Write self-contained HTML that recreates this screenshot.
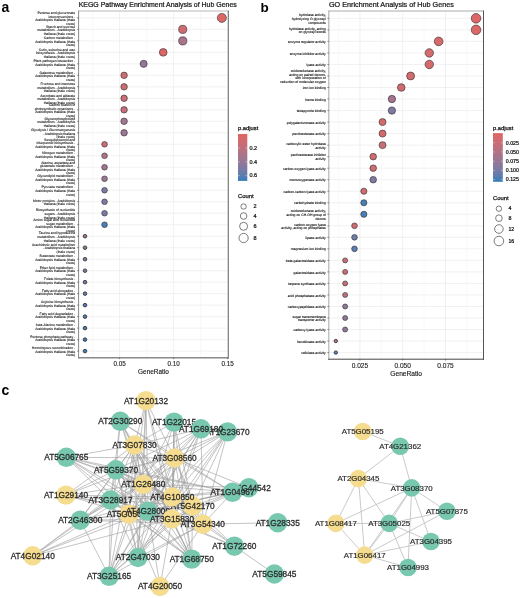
<!DOCTYPE html>
<html><head><meta charset="utf-8"><style>
html,body{margin:0;padding:0;background:#fff;}
svg{display:block;font-family:"Liberation Sans",sans-serif;will-change:transform;}
</style></head><body>
<svg width="520" height="598" viewBox="0 0 520 598">
<rect width="520" height="598" fill="#fff"/>
<text x="1.6" y="11.8" font-size="14" font-weight="bold" fill="#000">a</text>
<text x="260.6" y="11.8" font-size="13.5" font-weight="bold" fill="#000">b</text>
<text x="1.6" y="394.8" font-size="14" font-weight="bold" fill="#000">c</text>
<text x="78.7" y="6.8" font-size="6.96" fill="#1a1a1a" stroke="#1a1a1a" stroke-width="0.24">KEGG Pathway Enrichment Analysis of Hub Genes</text>
<text x="329" y="6.9" font-size="7.22" fill="#1a1a1a" stroke="#1a1a1a" stroke-width="0.24">GO Enrichment Analysis of Hub Genes</text>
<line x1="78.6" y1="17.90" x2="228.3" y2="17.90" stroke="#ebebeb" stroke-width="0.7"/>
<line x1="78.6" y1="29.39" x2="228.3" y2="29.39" stroke="#ebebeb" stroke-width="0.7"/>
<line x1="78.6" y1="40.88" x2="228.3" y2="40.88" stroke="#ebebeb" stroke-width="0.7"/>
<line x1="78.6" y1="52.37" x2="228.3" y2="52.37" stroke="#ebebeb" stroke-width="0.7"/>
<line x1="78.6" y1="63.86" x2="228.3" y2="63.86" stroke="#ebebeb" stroke-width="0.7"/>
<line x1="78.6" y1="75.35" x2="228.3" y2="75.35" stroke="#ebebeb" stroke-width="0.7"/>
<line x1="78.6" y1="86.84" x2="228.3" y2="86.84" stroke="#ebebeb" stroke-width="0.7"/>
<line x1="78.6" y1="98.33" x2="228.3" y2="98.33" stroke="#ebebeb" stroke-width="0.7"/>
<line x1="78.6" y1="109.82" x2="228.3" y2="109.82" stroke="#ebebeb" stroke-width="0.7"/>
<line x1="78.6" y1="121.31" x2="228.3" y2="121.31" stroke="#ebebeb" stroke-width="0.7"/>
<line x1="78.6" y1="132.80" x2="228.3" y2="132.80" stroke="#ebebeb" stroke-width="0.7"/>
<line x1="78.6" y1="144.29" x2="228.3" y2="144.29" stroke="#ebebeb" stroke-width="0.7"/>
<line x1="78.6" y1="155.78" x2="228.3" y2="155.78" stroke="#ebebeb" stroke-width="0.7"/>
<line x1="78.6" y1="167.27" x2="228.3" y2="167.27" stroke="#ebebeb" stroke-width="0.7"/>
<line x1="78.6" y1="178.76" x2="228.3" y2="178.76" stroke="#ebebeb" stroke-width="0.7"/>
<line x1="78.6" y1="190.25" x2="228.3" y2="190.25" stroke="#ebebeb" stroke-width="0.7"/>
<line x1="78.6" y1="201.74" x2="228.3" y2="201.74" stroke="#ebebeb" stroke-width="0.7"/>
<line x1="78.6" y1="213.23" x2="228.3" y2="213.23" stroke="#ebebeb" stroke-width="0.7"/>
<line x1="78.6" y1="224.72" x2="228.3" y2="224.72" stroke="#ebebeb" stroke-width="0.7"/>
<line x1="78.6" y1="236.21" x2="228.3" y2="236.21" stroke="#ebebeb" stroke-width="0.7"/>
<line x1="78.6" y1="247.70" x2="228.3" y2="247.70" stroke="#ebebeb" stroke-width="0.7"/>
<line x1="78.6" y1="259.19" x2="228.3" y2="259.19" stroke="#ebebeb" stroke-width="0.7"/>
<line x1="78.6" y1="270.68" x2="228.3" y2="270.68" stroke="#ebebeb" stroke-width="0.7"/>
<line x1="78.6" y1="282.17" x2="228.3" y2="282.17" stroke="#ebebeb" stroke-width="0.7"/>
<line x1="78.6" y1="293.66" x2="228.3" y2="293.66" stroke="#ebebeb" stroke-width="0.7"/>
<line x1="78.6" y1="305.15" x2="228.3" y2="305.15" stroke="#ebebeb" stroke-width="0.7"/>
<line x1="78.6" y1="316.64" x2="228.3" y2="316.64" stroke="#ebebeb" stroke-width="0.7"/>
<line x1="78.6" y1="328.13" x2="228.3" y2="328.13" stroke="#ebebeb" stroke-width="0.7"/>
<line x1="78.6" y1="339.62" x2="228.3" y2="339.62" stroke="#ebebeb" stroke-width="0.7"/>
<line x1="78.6" y1="351.11" x2="228.3" y2="351.11" stroke="#ebebeb" stroke-width="0.7"/>
<line x1="92.60" y1="11.0" x2="92.60" y2="357.8" stroke="#f3f3f3" stroke-width="0.5"/>
<line x1="146.60" y1="11.0" x2="146.60" y2="357.8" stroke="#f3f3f3" stroke-width="0.5"/>
<line x1="200.60" y1="11.0" x2="200.60" y2="357.8" stroke="#f3f3f3" stroke-width="0.5"/>
<line x1="119.60" y1="11.0" x2="119.60" y2="357.8" stroke="#ebebeb" stroke-width="0.7"/>
<line x1="173.60" y1="11.0" x2="173.60" y2="357.8" stroke="#ebebeb" stroke-width="0.7"/>
<line x1="227.60" y1="11.0" x2="227.60" y2="357.8" stroke="#ebebeb" stroke-width="0.7"/>
<circle cx="221.85" cy="17.90" r="4.50" fill="#db6867" stroke="#2a2a2a" stroke-width="0.7" stroke-opacity="0.85"/>
<circle cx="182.75" cy="29.39" r="4.08" fill="#cf6b70" stroke="#2a2a2a" stroke-width="0.7" stroke-opacity="0.85"/>
<circle cx="182.75" cy="40.88" r="4.08" fill="#aa748a" stroke="#2a2a2a" stroke-width="0.7" stroke-opacity="0.85"/>
<circle cx="163.20" cy="52.37" r="3.84" fill="#db6867" stroke="#2a2a2a" stroke-width="0.7" stroke-opacity="0.85"/>
<circle cx="143.65" cy="63.86" r="3.57" fill="#947797" stroke="#2a2a2a" stroke-width="0.7" stroke-opacity="0.85"/>
<circle cx="124.10" cy="75.35" r="3.24" fill="#ca6d74" stroke="#2a2a2a" stroke-width="0.7" stroke-opacity="0.85"/>
<circle cx="124.10" cy="86.84" r="3.24" fill="#ca6d74" stroke="#2a2a2a" stroke-width="0.7" stroke-opacity="0.85"/>
<circle cx="124.10" cy="98.33" r="3.24" fill="#c76e76" stroke="#2a2a2a" stroke-width="0.7" stroke-opacity="0.85"/>
<circle cx="124.10" cy="109.82" r="3.24" fill="#c46f79" stroke="#2a2a2a" stroke-width="0.7" stroke-opacity="0.85"/>
<circle cx="124.10" cy="121.31" r="3.24" fill="#a3758e" stroke="#2a2a2a" stroke-width="0.7" stroke-opacity="0.85"/>
<circle cx="124.10" cy="132.80" r="3.24" fill="#9c7693" stroke="#2a2a2a" stroke-width="0.7" stroke-opacity="0.85"/>
<circle cx="104.55" cy="144.29" r="2.82" fill="#ca6d74" stroke="#2a2a2a" stroke-width="0.7" stroke-opacity="0.85"/>
<circle cx="104.55" cy="155.78" r="2.82" fill="#b17386" stroke="#2a2a2a" stroke-width="0.7" stroke-opacity="0.85"/>
<circle cx="104.55" cy="167.27" r="2.82" fill="#a3758e" stroke="#2a2a2a" stroke-width="0.7" stroke-opacity="0.85"/>
<circle cx="104.55" cy="178.76" r="2.82" fill="#9c7693" stroke="#2a2a2a" stroke-width="0.7" stroke-opacity="0.85"/>
<circle cx="104.55" cy="190.25" r="2.82" fill="#7a7aa4" stroke="#2a2a2a" stroke-width="0.7" stroke-opacity="0.85"/>
<circle cx="104.55" cy="201.74" r="2.82" fill="#7a7aa4" stroke="#2a2a2a" stroke-width="0.7" stroke-opacity="0.85"/>
<circle cx="104.55" cy="213.23" r="2.82" fill="#7a7aa4" stroke="#2a2a2a" stroke-width="0.7" stroke-opacity="0.85"/>
<circle cx="104.55" cy="224.72" r="2.82" fill="#487db6" stroke="#2a2a2a" stroke-width="0.7" stroke-opacity="0.85"/>
<circle cx="85.00" cy="236.21" r="1.80" fill="#9c7693" stroke="#2a2a2a" stroke-width="0.95" stroke-opacity="0.85"/>
<circle cx="85.00" cy="247.70" r="1.80" fill="#947797" stroke="#2a2a2a" stroke-width="0.95" stroke-opacity="0.85"/>
<circle cx="85.00" cy="259.19" r="1.80" fill="#87799e" stroke="#2a2a2a" stroke-width="0.95" stroke-opacity="0.85"/>
<circle cx="85.00" cy="270.68" r="1.80" fill="#807aa2" stroke="#2a2a2a" stroke-width="0.95" stroke-opacity="0.85"/>
<circle cx="85.00" cy="282.17" r="1.80" fill="#747ba7" stroke="#2a2a2a" stroke-width="0.95" stroke-opacity="0.85"/>
<circle cx="85.00" cy="293.66" r="1.80" fill="#657cad" stroke="#2a2a2a" stroke-width="0.95" stroke-opacity="0.85"/>
<circle cx="85.00" cy="305.15" r="1.80" fill="#577db1" stroke="#2a2a2a" stroke-width="0.95" stroke-opacity="0.85"/>
<circle cx="85.00" cy="316.64" r="1.80" fill="#527db3" stroke="#2a2a2a" stroke-width="0.95" stroke-opacity="0.85"/>
<circle cx="85.00" cy="328.13" r="1.80" fill="#487db6" stroke="#2a2a2a" stroke-width="0.95" stroke-opacity="0.85"/>
<circle cx="85.00" cy="339.62" r="1.80" fill="#407eb7" stroke="#2a2a2a" stroke-width="0.95" stroke-opacity="0.85"/>
<circle cx="85.00" cy="351.11" r="1.80" fill="#3c7eb8" stroke="#2a2a2a" stroke-width="0.95" stroke-opacity="0.85"/>
<line x1="78.6" y1="11.0" x2="228.3" y2="11.0" stroke="#b0b0b0" stroke-width="0.9"/>
<line x1="228.3" y1="10.55" x2="228.3" y2="358.5" stroke="#6a6a6a" stroke-width="1.0"/>
<line x1="78.6" y1="10.55" x2="78.6" y2="358.5" stroke="#8a8a8a" stroke-width="1.0"/>
<line x1="78.1" y1="357.8" x2="228.8" y2="357.8" stroke="#8a8a8a" stroke-width="1.4"/>
<line x1="119.60" y1="357.8" x2="119.60" y2="359.1" stroke="#333" stroke-width="0.6"/>
<text x="119.60" y="365.7" font-size="6.3" fill="#222" stroke="#222" stroke-width="0.12" text-anchor="middle">0.05</text>
<line x1="173.60" y1="357.8" x2="173.60" y2="359.1" stroke="#333" stroke-width="0.6"/>
<text x="173.60" y="365.7" font-size="6.3" fill="#222" stroke="#222" stroke-width="0.12" text-anchor="middle">0.10</text>
<line x1="227.60" y1="357.8" x2="227.60" y2="359.1" stroke="#333" stroke-width="0.6"/>
<text x="227.60" y="365.7" font-size="6.3" fill="#222" stroke="#222" stroke-width="0.12" text-anchor="middle">0.15</text>
<text x="153.5" y="373.7" font-size="6.45" fill="#111" stroke="#111" stroke-width="0.12" text-anchor="middle">GeneRatio</text>
<line x1="77.19999999999999" y1="17.90" x2="78.6" y2="17.90" stroke="#333" stroke-width="0.6"/>
<text font-size="3.4" fill="#333" stroke="#333" stroke-width="0.12" text-anchor="end" style="text-rendering:geometricPrecision"><tspan x="75.2" y="14.32">Pentose and glucuronate</tspan><tspan x="75.2" y="17.88">interconversions -</tspan><tspan x="75.2" y="21.42">Arabidopsis thaliana (thale</tspan><tspan x="75.2" y="24.97">cress)</tspan></text>
<line x1="77.19999999999999" y1="29.39" x2="78.6" y2="29.39" stroke="#333" stroke-width="0.6"/>
<text font-size="3.4" fill="#333" stroke="#333" stroke-width="0.12" text-anchor="end" style="text-rendering:geometricPrecision"><tspan x="75.2" y="27.59">Starch and sucrose</tspan><tspan x="75.2" y="31.14">metabolism - Arabidopsis</tspan><tspan x="75.2" y="34.69">thaliana (thale cress)</tspan></text>
<line x1="77.19999999999999" y1="40.88" x2="78.6" y2="40.88" stroke="#333" stroke-width="0.6"/>
<text font-size="3.4" fill="#333" stroke="#333" stroke-width="0.12" text-anchor="end" style="text-rendering:geometricPrecision"><tspan x="75.2" y="39.08">Carbon metabolism -</tspan><tspan x="75.2" y="42.63">Arabidopsis thaliana (thale</tspan><tspan x="75.2" y="46.18">cress)</tspan></text>
<line x1="77.19999999999999" y1="52.37" x2="78.6" y2="52.37" stroke="#333" stroke-width="0.6"/>
<text font-size="3.4" fill="#333" stroke="#333" stroke-width="0.12" text-anchor="end" style="text-rendering:geometricPrecision"><tspan x="75.2" y="50.57">Cutin, suberine and wax</tspan><tspan x="75.2" y="54.12">biosynthesis - Arabidopsis</tspan><tspan x="75.2" y="57.67">thaliana (thale cress)</tspan></text>
<line x1="77.19999999999999" y1="63.86" x2="78.6" y2="63.86" stroke="#333" stroke-width="0.6"/>
<text font-size="3.4" fill="#333" stroke="#333" stroke-width="0.12" text-anchor="end" style="text-rendering:geometricPrecision"><tspan x="75.2" y="62.06">Plant-pathogen interaction -</tspan><tspan x="75.2" y="65.61">Arabidopsis thaliana (thale</tspan><tspan x="75.2" y="69.16">cress)</tspan></text>
<line x1="77.19999999999999" y1="75.35" x2="78.6" y2="75.35" stroke="#333" stroke-width="0.6"/>
<text font-size="3.4" fill="#333" stroke="#333" stroke-width="0.12" text-anchor="end" style="text-rendering:geometricPrecision"><tspan x="75.2" y="73.55">Galactose metabolism -</tspan><tspan x="75.2" y="77.10">Arabidopsis thaliana (thale</tspan><tspan x="75.2" y="80.65">cress)</tspan></text>
<line x1="77.19999999999999" y1="86.84" x2="78.6" y2="86.84" stroke="#333" stroke-width="0.6"/>
<text font-size="3.4" fill="#333" stroke="#333" stroke-width="0.12" text-anchor="end" style="text-rendering:geometricPrecision"><tspan x="75.2" y="85.04">Fructose and mannose</tspan><tspan x="75.2" y="88.59">metabolism - Arabidopsis</tspan><tspan x="75.2" y="92.14">thaliana (thale cress)</tspan></text>
<line x1="77.19999999999999" y1="98.33" x2="78.6" y2="98.33" stroke="#333" stroke-width="0.6"/>
<text font-size="3.4" fill="#333" stroke="#333" stroke-width="0.12" text-anchor="end" style="text-rendering:geometricPrecision"><tspan x="75.2" y="96.53">Ascorbate and aldarate</tspan><tspan x="75.2" y="100.08">metabolism - Arabidopsis</tspan><tspan x="75.2" y="103.63">thaliana (thale cress)</tspan></text>
<line x1="77.19999999999999" y1="109.82" x2="78.6" y2="109.82" stroke="#333" stroke-width="0.6"/>
<text font-size="3.4" fill="#333" stroke="#333" stroke-width="0.12" text-anchor="end" style="text-rendering:geometricPrecision"><tspan x="75.2" y="106.24">Carbon fixation in</tspan><tspan x="75.2" y="109.79">photosynthetic organisms -</tspan><tspan x="75.2" y="113.34">Arabidopsis thaliana (thale</tspan><tspan x="75.2" y="116.89">cress)</tspan></text>
<line x1="77.19999999999999" y1="121.31" x2="78.6" y2="121.31" stroke="#333" stroke-width="0.6"/>
<text font-size="3.4" fill="#333" stroke="#333" stroke-width="0.12" text-anchor="end" style="text-rendering:geometricPrecision"><tspan x="75.2" y="119.51">Glycerophospholipid</tspan><tspan x="75.2" y="123.06">metabolism - Arabidopsis</tspan><tspan x="75.2" y="126.61">thaliana (thale cress)</tspan></text>
<line x1="77.19999999999999" y1="132.80" x2="78.6" y2="132.80" stroke="#333" stroke-width="0.6"/>
<text font-size="3.4" fill="#333" stroke="#333" stroke-width="0.12" text-anchor="end" style="text-rendering:geometricPrecision"><tspan x="75.2" y="131.00">Glycolysis / Gluconeogenesis</tspan><tspan x="75.2" y="134.55">- Arabidopsis thaliana</tspan><tspan x="75.2" y="138.10">(thale cress)</tspan></text>
<line x1="77.19999999999999" y1="144.29" x2="78.6" y2="144.29" stroke="#333" stroke-width="0.6"/>
<text font-size="3.4" fill="#333" stroke="#333" stroke-width="0.12" text-anchor="end" style="text-rendering:geometricPrecision"><tspan x="75.2" y="140.72">Sesquiterpenoid and</tspan><tspan x="75.2" y="144.27">triterpenoid biosynthesis -</tspan><tspan x="75.2" y="147.81">Arabidopsis thaliana (thale</tspan><tspan x="75.2" y="151.37">cress)</tspan></text>
<line x1="77.19999999999999" y1="155.78" x2="78.6" y2="155.78" stroke="#333" stroke-width="0.6"/>
<text font-size="3.4" fill="#333" stroke="#333" stroke-width="0.12" text-anchor="end" style="text-rendering:geometricPrecision"><tspan x="75.2" y="153.98">Nitrogen metabolism -</tspan><tspan x="75.2" y="157.53">Arabidopsis thaliana (thale</tspan><tspan x="75.2" y="161.08">cress)</tspan></text>
<line x1="77.19999999999999" y1="167.27" x2="78.6" y2="167.27" stroke="#333" stroke-width="0.6"/>
<text font-size="3.4" fill="#333" stroke="#333" stroke-width="0.12" text-anchor="end" style="text-rendering:geometricPrecision"><tspan x="75.2" y="163.70">Alanine, aspartate and</tspan><tspan x="75.2" y="167.25">glutamate metabolism -</tspan><tspan x="75.2" y="170.80">Arabidopsis thaliana (thale</tspan><tspan x="75.2" y="174.35">cress)</tspan></text>
<line x1="77.19999999999999" y1="178.76" x2="78.6" y2="178.76" stroke="#333" stroke-width="0.6"/>
<text font-size="3.4" fill="#333" stroke="#333" stroke-width="0.12" text-anchor="end" style="text-rendering:geometricPrecision"><tspan x="75.2" y="176.96">Glycerolipid metabolism -</tspan><tspan x="75.2" y="180.51">Arabidopsis thaliana (thale</tspan><tspan x="75.2" y="184.06">cress)</tspan></text>
<line x1="77.19999999999999" y1="190.25" x2="78.6" y2="190.25" stroke="#333" stroke-width="0.6"/>
<text font-size="3.4" fill="#333" stroke="#333" stroke-width="0.12" text-anchor="end" style="text-rendering:geometricPrecision"><tspan x="75.2" y="188.45">Pyruvate metabolism -</tspan><tspan x="75.2" y="192.00">Arabidopsis thaliana (thale</tspan><tspan x="75.2" y="195.55">cress)</tspan></text>
<line x1="77.19999999999999" y1="201.74" x2="78.6" y2="201.74" stroke="#333" stroke-width="0.6"/>
<text font-size="3.4" fill="#333" stroke="#333" stroke-width="0.12" text-anchor="end" style="text-rendering:geometricPrecision"><tspan x="75.2" y="201.72">Motor proteins - Arabidopsis</tspan><tspan x="75.2" y="205.27">thaliana (thale cress)</tspan></text>
<line x1="77.19999999999999" y1="213.23" x2="78.6" y2="213.23" stroke="#333" stroke-width="0.6"/>
<text font-size="3.4" fill="#333" stroke="#333" stroke-width="0.12" text-anchor="end" style="text-rendering:geometricPrecision"><tspan x="75.2" y="211.43">Biosynthesis of nucleotide</tspan><tspan x="75.2" y="214.98">sugars - Arabidopsis</tspan><tspan x="75.2" y="218.53">thaliana (thale cress)</tspan></text>
<line x1="77.19999999999999" y1="224.72" x2="78.6" y2="224.72" stroke="#333" stroke-width="0.6"/>
<text font-size="3.4" fill="#333" stroke="#333" stroke-width="0.12" text-anchor="end" style="text-rendering:geometricPrecision"><tspan x="75.2" y="221.15">Amino sugar and nucleotide</tspan><tspan x="75.2" y="224.70">sugar metabolism -</tspan><tspan x="75.2" y="228.25">Arabidopsis thaliana (thale</tspan><tspan x="75.2" y="231.80">cress)</tspan></text>
<line x1="77.19999999999999" y1="236.21" x2="78.6" y2="236.21" stroke="#333" stroke-width="0.6"/>
<text font-size="3.4" fill="#333" stroke="#333" stroke-width="0.12" text-anchor="end" style="text-rendering:geometricPrecision"><tspan x="75.2" y="234.41">Taurine and hypotaurine</tspan><tspan x="75.2" y="237.96">metabolism - Arabidopsis</tspan><tspan x="75.2" y="241.51">thaliana (thale cress)</tspan></text>
<line x1="77.19999999999999" y1="247.70" x2="78.6" y2="247.70" stroke="#333" stroke-width="0.6"/>
<text font-size="3.4" fill="#333" stroke="#333" stroke-width="0.12" text-anchor="end" style="text-rendering:geometricPrecision"><tspan x="75.2" y="245.90">Arachidonic acid metabolism</tspan><tspan x="75.2" y="249.45">- Arabidopsis thaliana</tspan><tspan x="75.2" y="253.00">(thale cress)</tspan></text>
<line x1="77.19999999999999" y1="259.19" x2="78.6" y2="259.19" stroke="#333" stroke-width="0.6"/>
<text font-size="3.4" fill="#333" stroke="#333" stroke-width="0.12" text-anchor="end" style="text-rendering:geometricPrecision"><tspan x="75.2" y="257.39">Butanoate metabolism -</tspan><tspan x="75.2" y="260.94">Arabidopsis thaliana (thale</tspan><tspan x="75.2" y="264.49">cress)</tspan></text>
<line x1="77.19999999999999" y1="270.68" x2="78.6" y2="270.68" stroke="#333" stroke-width="0.6"/>
<text font-size="3.4" fill="#333" stroke="#333" stroke-width="0.12" text-anchor="end" style="text-rendering:geometricPrecision"><tspan x="75.2" y="268.88">Ether lipid metabolism -</tspan><tspan x="75.2" y="272.43">Arabidopsis thaliana (thale</tspan><tspan x="75.2" y="275.98">cress)</tspan></text>
<line x1="77.19999999999999" y1="282.17" x2="78.6" y2="282.17" stroke="#333" stroke-width="0.6"/>
<text font-size="3.4" fill="#333" stroke="#333" stroke-width="0.12" text-anchor="end" style="text-rendering:geometricPrecision"><tspan x="75.2" y="280.37">Folate biosynthesis -</tspan><tspan x="75.2" y="283.92">Arabidopsis thaliana (thale</tspan><tspan x="75.2" y="287.47">cress)</tspan></text>
<line x1="77.19999999999999" y1="293.66" x2="78.6" y2="293.66" stroke="#333" stroke-width="0.6"/>
<text font-size="3.4" fill="#333" stroke="#333" stroke-width="0.12" text-anchor="end" style="text-rendering:geometricPrecision"><tspan x="75.2" y="291.86">Fatty acid elongation -</tspan><tspan x="75.2" y="295.41">Arabidopsis thaliana (thale</tspan><tspan x="75.2" y="298.96">cress)</tspan></text>
<line x1="77.19999999999999" y1="305.15" x2="78.6" y2="305.15" stroke="#333" stroke-width="0.6"/>
<text font-size="3.4" fill="#333" stroke="#333" stroke-width="0.12" text-anchor="end" style="text-rendering:geometricPrecision"><tspan x="75.2" y="303.35">Arginine biosynthesis -</tspan><tspan x="75.2" y="306.90">Arabidopsis thaliana (thale</tspan><tspan x="75.2" y="310.45">cress)</tspan></text>
<line x1="77.19999999999999" y1="316.64" x2="78.6" y2="316.64" stroke="#333" stroke-width="0.6"/>
<text font-size="3.4" fill="#333" stroke="#333" stroke-width="0.12" text-anchor="end" style="text-rendering:geometricPrecision"><tspan x="75.2" y="314.84">Fatty acid degradation -</tspan><tspan x="75.2" y="318.39">Arabidopsis thaliana (thale</tspan><tspan x="75.2" y="321.94">cress)</tspan></text>
<line x1="77.19999999999999" y1="328.13" x2="78.6" y2="328.13" stroke="#333" stroke-width="0.6"/>
<text font-size="3.4" fill="#333" stroke="#333" stroke-width="0.12" text-anchor="end" style="text-rendering:geometricPrecision"><tspan x="75.2" y="326.33">beta-Alanine metabolism -</tspan><tspan x="75.2" y="329.88">Arabidopsis thaliana (thale</tspan><tspan x="75.2" y="333.43">cress)</tspan></text>
<line x1="77.19999999999999" y1="339.62" x2="78.6" y2="339.62" stroke="#333" stroke-width="0.6"/>
<text font-size="3.4" fill="#333" stroke="#333" stroke-width="0.12" text-anchor="end" style="text-rendering:geometricPrecision"><tspan x="75.2" y="337.82">Pentose phosphate pathway -</tspan><tspan x="75.2" y="341.37">Arabidopsis thaliana (thale</tspan><tspan x="75.2" y="344.92">cress)</tspan></text>
<line x1="77.19999999999999" y1="351.11" x2="78.6" y2="351.11" stroke="#333" stroke-width="0.6"/>
<text font-size="3.4" fill="#333" stroke="#333" stroke-width="0.12" text-anchor="end" style="text-rendering:geometricPrecision"><tspan x="75.2" y="349.31">Homologous recombination -</tspan><tspan x="75.2" y="352.86">Arabidopsis thaliana (thale</tspan><tspan x="75.2" y="356.41">cress)</tspan></text>
<line x1="328.8" y1="18.35" x2="483.5" y2="18.35" stroke="#ebebeb" stroke-width="0.7"/>
<line x1="328.8" y1="29.88" x2="483.5" y2="29.88" stroke="#ebebeb" stroke-width="0.7"/>
<line x1="328.8" y1="41.40" x2="483.5" y2="41.40" stroke="#ebebeb" stroke-width="0.7"/>
<line x1="328.8" y1="52.93" x2="483.5" y2="52.93" stroke="#ebebeb" stroke-width="0.7"/>
<line x1="328.8" y1="64.45" x2="483.5" y2="64.45" stroke="#ebebeb" stroke-width="0.7"/>
<line x1="328.8" y1="75.97" x2="483.5" y2="75.97" stroke="#ebebeb" stroke-width="0.7"/>
<line x1="328.8" y1="87.50" x2="483.5" y2="87.50" stroke="#ebebeb" stroke-width="0.7"/>
<line x1="328.8" y1="99.03" x2="483.5" y2="99.03" stroke="#ebebeb" stroke-width="0.7"/>
<line x1="328.8" y1="110.55" x2="483.5" y2="110.55" stroke="#ebebeb" stroke-width="0.7"/>
<line x1="328.8" y1="122.08" x2="483.5" y2="122.08" stroke="#ebebeb" stroke-width="0.7"/>
<line x1="328.8" y1="133.60" x2="483.5" y2="133.60" stroke="#ebebeb" stroke-width="0.7"/>
<line x1="328.8" y1="145.12" x2="483.5" y2="145.12" stroke="#ebebeb" stroke-width="0.7"/>
<line x1="328.8" y1="156.65" x2="483.5" y2="156.65" stroke="#ebebeb" stroke-width="0.7"/>
<line x1="328.8" y1="168.18" x2="483.5" y2="168.18" stroke="#ebebeb" stroke-width="0.7"/>
<line x1="328.8" y1="179.70" x2="483.5" y2="179.70" stroke="#ebebeb" stroke-width="0.7"/>
<line x1="328.8" y1="191.22" x2="483.5" y2="191.22" stroke="#ebebeb" stroke-width="0.7"/>
<line x1="328.8" y1="202.75" x2="483.5" y2="202.75" stroke="#ebebeb" stroke-width="0.7"/>
<line x1="328.8" y1="214.28" x2="483.5" y2="214.28" stroke="#ebebeb" stroke-width="0.7"/>
<line x1="328.8" y1="225.80" x2="483.5" y2="225.80" stroke="#ebebeb" stroke-width="0.7"/>
<line x1="328.8" y1="237.32" x2="483.5" y2="237.32" stroke="#ebebeb" stroke-width="0.7"/>
<line x1="328.8" y1="248.85" x2="483.5" y2="248.85" stroke="#ebebeb" stroke-width="0.7"/>
<line x1="328.8" y1="260.38" x2="483.5" y2="260.38" stroke="#ebebeb" stroke-width="0.7"/>
<line x1="328.8" y1="271.90" x2="483.5" y2="271.90" stroke="#ebebeb" stroke-width="0.7"/>
<line x1="328.8" y1="283.43" x2="483.5" y2="283.43" stroke="#ebebeb" stroke-width="0.7"/>
<line x1="328.8" y1="294.95" x2="483.5" y2="294.95" stroke="#ebebeb" stroke-width="0.7"/>
<line x1="328.8" y1="306.48" x2="483.5" y2="306.48" stroke="#ebebeb" stroke-width="0.7"/>
<line x1="328.8" y1="318.00" x2="483.5" y2="318.00" stroke="#ebebeb" stroke-width="0.7"/>
<line x1="328.8" y1="329.53" x2="483.5" y2="329.53" stroke="#ebebeb" stroke-width="0.7"/>
<line x1="328.8" y1="341.05" x2="483.5" y2="341.05" stroke="#ebebeb" stroke-width="0.7"/>
<line x1="328.8" y1="352.58" x2="483.5" y2="352.58" stroke="#ebebeb" stroke-width="0.7"/>
<line x1="338.50" y1="11.0" x2="338.50" y2="359.2" stroke="#f3f3f3" stroke-width="0.5"/>
<line x1="381.30" y1="11.0" x2="381.30" y2="359.2" stroke="#f3f3f3" stroke-width="0.5"/>
<line x1="424.10" y1="11.0" x2="424.10" y2="359.2" stroke="#f3f3f3" stroke-width="0.5"/>
<line x1="466.90" y1="11.0" x2="466.90" y2="359.2" stroke="#f3f3f3" stroke-width="0.5"/>
<line x1="359.90" y1="11.0" x2="359.90" y2="359.2" stroke="#ebebeb" stroke-width="0.7"/>
<line x1="402.70" y1="11.0" x2="402.70" y2="359.2" stroke="#ebebeb" stroke-width="0.7"/>
<line x1="445.50" y1="11.0" x2="445.50" y2="359.2" stroke="#ebebeb" stroke-width="0.7"/>
<circle cx="476.05" cy="18.35" r="4.80" fill="#de6765" stroke="#2a2a2a" stroke-width="0.7" stroke-opacity="0.85"/>
<circle cx="476.05" cy="29.88" r="4.80" fill="#db6867" stroke="#2a2a2a" stroke-width="0.7" stroke-opacity="0.85"/>
<circle cx="438.65" cy="41.40" r="4.35" fill="#d7696a" stroke="#2a2a2a" stroke-width="0.7" stroke-opacity="0.85"/>
<circle cx="429.30" cy="52.93" r="4.23" fill="#d56a6c" stroke="#2a2a2a" stroke-width="0.7" stroke-opacity="0.85"/>
<circle cx="429.30" cy="64.45" r="4.23" fill="#d56a6c" stroke="#2a2a2a" stroke-width="0.7" stroke-opacity="0.85"/>
<circle cx="410.60" cy="75.97" r="3.96" fill="#d36a6e" stroke="#2a2a2a" stroke-width="0.7" stroke-opacity="0.85"/>
<circle cx="401.25" cy="87.50" r="3.82" fill="#cf6b70" stroke="#2a2a2a" stroke-width="0.7" stroke-opacity="0.85"/>
<circle cx="391.90" cy="99.03" r="3.66" fill="#a3758e" stroke="#2a2a2a" stroke-width="0.7" stroke-opacity="0.85"/>
<circle cx="391.90" cy="110.55" r="3.66" fill="#807aa2" stroke="#2a2a2a" stroke-width="0.7" stroke-opacity="0.85"/>
<circle cx="382.55" cy="122.08" r="3.49" fill="#d56a6c" stroke="#2a2a2a" stroke-width="0.7" stroke-opacity="0.85"/>
<circle cx="382.55" cy="133.60" r="3.49" fill="#d36a6e" stroke="#2a2a2a" stroke-width="0.7" stroke-opacity="0.85"/>
<circle cx="382.55" cy="145.12" r="3.49" fill="#c76e76" stroke="#2a2a2a" stroke-width="0.7" stroke-opacity="0.85"/>
<circle cx="373.20" cy="156.65" r="3.30" fill="#cf6b70" stroke="#2a2a2a" stroke-width="0.7" stroke-opacity="0.85"/>
<circle cx="373.20" cy="168.18" r="3.30" fill="#cc6c73" stroke="#2a2a2a" stroke-width="0.7" stroke-opacity="0.85"/>
<circle cx="373.20" cy="179.70" r="3.30" fill="#807aa2" stroke="#2a2a2a" stroke-width="0.7" stroke-opacity="0.85"/>
<circle cx="363.85" cy="191.22" r="3.09" fill="#cf6b70" stroke="#2a2a2a" stroke-width="0.7" stroke-opacity="0.85"/>
<circle cx="363.85" cy="202.75" r="3.09" fill="#487db6" stroke="#2a2a2a" stroke-width="0.7" stroke-opacity="0.85"/>
<circle cx="363.85" cy="214.28" r="3.09" fill="#487db6" stroke="#2a2a2a" stroke-width="0.7" stroke-opacity="0.85"/>
<circle cx="354.50" cy="225.80" r="2.83" fill="#cc6c73" stroke="#2a2a2a" stroke-width="0.7" stroke-opacity="0.85"/>
<circle cx="354.50" cy="237.32" r="2.83" fill="#707ba8" stroke="#2a2a2a" stroke-width="0.7" stroke-opacity="0.85"/>
<circle cx="354.50" cy="248.85" r="2.83" fill="#5d7caf" stroke="#2a2a2a" stroke-width="0.7" stroke-opacity="0.85"/>
<circle cx="345.15" cy="260.38" r="2.50" fill="#ca6d74" stroke="#2a2a2a" stroke-width="0.7" stroke-opacity="0.85"/>
<circle cx="345.15" cy="271.90" r="2.50" fill="#ca6d74" stroke="#2a2a2a" stroke-width="0.7" stroke-opacity="0.85"/>
<circle cx="345.15" cy="283.43" r="2.50" fill="#ca6d74" stroke="#2a2a2a" stroke-width="0.7" stroke-opacity="0.85"/>
<circle cx="345.15" cy="294.95" r="2.50" fill="#be707d" stroke="#2a2a2a" stroke-width="0.7" stroke-opacity="0.85"/>
<circle cx="345.15" cy="306.48" r="2.50" fill="#8c789b" stroke="#2a2a2a" stroke-width="0.7" stroke-opacity="0.85"/>
<circle cx="345.15" cy="318.00" r="2.50" fill="#8c789b" stroke="#2a2a2a" stroke-width="0.7" stroke-opacity="0.85"/>
<circle cx="345.15" cy="329.53" r="2.50" fill="#8c789b" stroke="#2a2a2a" stroke-width="0.7" stroke-opacity="0.85"/>
<circle cx="335.80" cy="341.05" r="1.70" fill="#be707d" stroke="#2a2a2a" stroke-width="0.95" stroke-opacity="0.85"/>
<circle cx="335.80" cy="352.58" r="1.70" fill="#577db1" stroke="#2a2a2a" stroke-width="0.95" stroke-opacity="0.85"/>
<line x1="328.8" y1="11.0" x2="483.5" y2="11.0" stroke="#a0a0a0" stroke-width="0.9"/>
<line x1="483.5" y1="10.55" x2="483.5" y2="359.7" stroke="#555555" stroke-width="1.0"/>
<line x1="328.8" y1="10.55" x2="328.8" y2="359.7" stroke="#b4b4b4" stroke-width="1.2"/>
<line x1="328.2" y1="359.2" x2="484.0" y2="359.2" stroke="#444444" stroke-width="1.0"/>
<line x1="359.90" y1="359.2" x2="359.90" y2="360.5" stroke="#333" stroke-width="0.6"/>
<text x="359.90" y="367.7" font-size="6.6" fill="#222" stroke="#222" stroke-width="0.12" text-anchor="middle">0.025</text>
<line x1="402.70" y1="359.2" x2="402.70" y2="360.5" stroke="#333" stroke-width="0.6"/>
<text x="402.70" y="367.7" font-size="6.6" fill="#222" stroke="#222" stroke-width="0.12" text-anchor="middle">0.050</text>
<line x1="445.50" y1="359.2" x2="445.50" y2="360.5" stroke="#333" stroke-width="0.6"/>
<text x="445.50" y="367.7" font-size="6.6" fill="#222" stroke="#222" stroke-width="0.12" text-anchor="middle">0.075</text>
<text x="406.2" y="375.7" font-size="6.63" fill="#111" stroke="#111" stroke-width="0.12" text-anchor="middle">GeneRatio</text>
<line x1="327.40000000000003" y1="18.35" x2="328.8" y2="18.35" stroke="#333" stroke-width="0.6"/>
<text font-size="3.42" fill="#2a2a2a" stroke="#2a2a2a" stroke-width="0.13" text-anchor="end" style="text-rendering:geometricPrecision"><tspan x="325.8" y="16.20">hydrolase activity,</tspan><tspan x="325.8" y="19.95">hydrolyzing O-glycosyl</tspan><tspan x="325.8" y="23.70">compounds</tspan></text>
<line x1="327.40000000000003" y1="29.88" x2="328.8" y2="29.88" stroke="#333" stroke-width="0.6"/>
<text font-size="3.42" fill="#2a2a2a" stroke="#2a2a2a" stroke-width="0.13" text-anchor="end" style="text-rendering:geometricPrecision"><tspan x="325.8" y="29.60">hydrolase activity, acting</tspan><tspan x="325.8" y="33.35">on glycosyl bonds</tspan></text>
<line x1="327.40000000000003" y1="41.40" x2="328.8" y2="41.40" stroke="#333" stroke-width="0.6"/>
<text font-size="3.42" fill="#2a2a2a" stroke="#2a2a2a" stroke-width="0.13" text-anchor="end" style="text-rendering:geometricPrecision"><tspan x="325.8" y="43.00">enzyme regulator activity</tspan></text>
<line x1="327.40000000000003" y1="52.93" x2="328.8" y2="52.93" stroke="#333" stroke-width="0.6"/>
<text font-size="3.42" fill="#2a2a2a" stroke="#2a2a2a" stroke-width="0.13" text-anchor="end" style="text-rendering:geometricPrecision"><tspan x="325.8" y="54.53">enzyme inhibitor activity</tspan></text>
<line x1="327.40000000000003" y1="64.45" x2="328.8" y2="64.45" stroke="#333" stroke-width="0.6"/>
<text font-size="3.42" fill="#2a2a2a" stroke="#2a2a2a" stroke-width="0.13" text-anchor="end" style="text-rendering:geometricPrecision"><tspan x="325.8" y="66.05">lyase activity</tspan></text>
<line x1="327.40000000000003" y1="75.97" x2="328.8" y2="75.97" stroke="#333" stroke-width="0.6"/>
<text font-size="3.42" fill="#2a2a2a" stroke="#2a2a2a" stroke-width="0.13" text-anchor="end" style="text-rendering:geometricPrecision"><tspan x="325.8" y="71.95">oxidoreductase activity,</tspan><tspan x="325.8" y="75.70">acting on paired donors,</tspan><tspan x="325.8" y="79.45">with incorporation or</tspan><tspan x="325.8" y="83.20">reduction of molecular oxygen</tspan></text>
<line x1="327.40000000000003" y1="87.50" x2="328.8" y2="87.50" stroke="#333" stroke-width="0.6"/>
<text font-size="3.42" fill="#2a2a2a" stroke="#2a2a2a" stroke-width="0.13" text-anchor="end" style="text-rendering:geometricPrecision"><tspan x="325.8" y="89.10">iron ion binding</tspan></text>
<line x1="327.40000000000003" y1="99.03" x2="328.8" y2="99.03" stroke="#333" stroke-width="0.6"/>
<text font-size="3.42" fill="#2a2a2a" stroke="#2a2a2a" stroke-width="0.13" text-anchor="end" style="text-rendering:geometricPrecision"><tspan x="325.8" y="100.62">heme binding</tspan></text>
<line x1="327.40000000000003" y1="110.55" x2="328.8" y2="110.55" stroke="#333" stroke-width="0.6"/>
<text font-size="3.42" fill="#2a2a2a" stroke="#2a2a2a" stroke-width="0.13" text-anchor="end" style="text-rendering:geometricPrecision"><tspan x="325.8" y="112.15">tetrapyrrole binding</tspan></text>
<line x1="327.40000000000003" y1="122.08" x2="328.8" y2="122.08" stroke="#333" stroke-width="0.6"/>
<text font-size="3.42" fill="#2a2a2a" stroke="#2a2a2a" stroke-width="0.13" text-anchor="end" style="text-rendering:geometricPrecision"><tspan x="325.8" y="123.68">polygalacturonase activity</tspan></text>
<line x1="327.40000000000003" y1="133.60" x2="328.8" y2="133.60" stroke="#333" stroke-width="0.6"/>
<text font-size="3.42" fill="#2a2a2a" stroke="#2a2a2a" stroke-width="0.13" text-anchor="end" style="text-rendering:geometricPrecision"><tspan x="325.8" y="135.20">pectinesterase activity</tspan></text>
<line x1="327.40000000000003" y1="145.12" x2="328.8" y2="145.12" stroke="#333" stroke-width="0.6"/>
<text font-size="3.42" fill="#2a2a2a" stroke="#2a2a2a" stroke-width="0.13" text-anchor="end" style="text-rendering:geometricPrecision"><tspan x="325.8" y="144.85">carboxylic ester hydrolase</tspan><tspan x="325.8" y="148.60">activity</tspan></text>
<line x1="327.40000000000003" y1="156.65" x2="328.8" y2="156.65" stroke="#333" stroke-width="0.6"/>
<text font-size="3.42" fill="#2a2a2a" stroke="#2a2a2a" stroke-width="0.13" text-anchor="end" style="text-rendering:geometricPrecision"><tspan x="325.8" y="156.38">pectinesterase inhibitor</tspan><tspan x="325.8" y="160.12">activity</tspan></text>
<line x1="327.40000000000003" y1="168.18" x2="328.8" y2="168.18" stroke="#333" stroke-width="0.6"/>
<text font-size="3.42" fill="#2a2a2a" stroke="#2a2a2a" stroke-width="0.13" text-anchor="end" style="text-rendering:geometricPrecision"><tspan x="325.8" y="169.78">carbon-oxygen lyase activity</tspan></text>
<line x1="327.40000000000003" y1="179.70" x2="328.8" y2="179.70" stroke="#333" stroke-width="0.6"/>
<text font-size="3.42" fill="#2a2a2a" stroke="#2a2a2a" stroke-width="0.13" text-anchor="end" style="text-rendering:geometricPrecision"><tspan x="325.8" y="181.30">monooxygenase activity</tspan></text>
<line x1="327.40000000000003" y1="191.22" x2="328.8" y2="191.22" stroke="#333" stroke-width="0.6"/>
<text font-size="3.42" fill="#2a2a2a" stroke="#2a2a2a" stroke-width="0.13" text-anchor="end" style="text-rendering:geometricPrecision"><tspan x="325.8" y="192.82">carbon-carbon lyase activity</tspan></text>
<line x1="327.40000000000003" y1="202.75" x2="328.8" y2="202.75" stroke="#333" stroke-width="0.6"/>
<text font-size="3.42" fill="#2a2a2a" stroke="#2a2a2a" stroke-width="0.13" text-anchor="end" style="text-rendering:geometricPrecision"><tspan x="325.8" y="204.35">carbohydrate binding</tspan></text>
<line x1="327.40000000000003" y1="214.28" x2="328.8" y2="214.28" stroke="#333" stroke-width="0.6"/>
<text font-size="3.42" fill="#2a2a2a" stroke="#2a2a2a" stroke-width="0.13" text-anchor="end" style="text-rendering:geometricPrecision"><tspan x="325.8" y="212.12">oxidoreductase activity,</tspan><tspan x="325.8" y="215.88">acting on CH-OH group of</tspan><tspan x="325.8" y="219.62">donors</tspan></text>
<line x1="327.40000000000003" y1="225.80" x2="328.8" y2="225.80" stroke="#333" stroke-width="0.6"/>
<text font-size="3.42" fill="#2a2a2a" stroke="#2a2a2a" stroke-width="0.13" text-anchor="end" style="text-rendering:geometricPrecision"><tspan x="325.8" y="225.53">carbon-oxygen lyase</tspan><tspan x="325.8" y="229.28">activity, acting on phosphates</tspan></text>
<line x1="327.40000000000003" y1="237.32" x2="328.8" y2="237.32" stroke="#333" stroke-width="0.6"/>
<text font-size="3.42" fill="#2a2a2a" stroke="#2a2a2a" stroke-width="0.13" text-anchor="end" style="text-rendering:geometricPrecision"><tspan x="325.8" y="238.92">lipase activity</tspan></text>
<line x1="327.40000000000003" y1="248.85" x2="328.8" y2="248.85" stroke="#333" stroke-width="0.6"/>
<text font-size="3.42" fill="#2a2a2a" stroke="#2a2a2a" stroke-width="0.13" text-anchor="end" style="text-rendering:geometricPrecision"><tspan x="325.8" y="250.45">magnesium ion binding</tspan></text>
<line x1="327.40000000000003" y1="260.38" x2="328.8" y2="260.38" stroke="#333" stroke-width="0.6"/>
<text font-size="3.42" fill="#2a2a2a" stroke="#2a2a2a" stroke-width="0.13" text-anchor="end" style="text-rendering:geometricPrecision"><tspan x="325.8" y="261.98">beta-galactosidase activity</tspan></text>
<line x1="327.40000000000003" y1="271.90" x2="328.8" y2="271.90" stroke="#333" stroke-width="0.6"/>
<text font-size="3.42" fill="#2a2a2a" stroke="#2a2a2a" stroke-width="0.13" text-anchor="end" style="text-rendering:geometricPrecision"><tspan x="325.8" y="273.50">galactosidase activity</tspan></text>
<line x1="327.40000000000003" y1="283.43" x2="328.8" y2="283.43" stroke="#333" stroke-width="0.6"/>
<text font-size="3.42" fill="#2a2a2a" stroke="#2a2a2a" stroke-width="0.13" text-anchor="end" style="text-rendering:geometricPrecision"><tspan x="325.8" y="285.03">terpene synthase activity</tspan></text>
<line x1="327.40000000000003" y1="294.95" x2="328.8" y2="294.95" stroke="#333" stroke-width="0.6"/>
<text font-size="3.42" fill="#2a2a2a" stroke="#2a2a2a" stroke-width="0.13" text-anchor="end" style="text-rendering:geometricPrecision"><tspan x="325.8" y="296.55">acid phosphatase activity</tspan></text>
<line x1="327.40000000000003" y1="306.48" x2="328.8" y2="306.48" stroke="#333" stroke-width="0.6"/>
<text font-size="3.42" fill="#2a2a2a" stroke="#2a2a2a" stroke-width="0.13" text-anchor="end" style="text-rendering:geometricPrecision"><tspan x="325.8" y="308.08">carboxypeptidase activity</tspan></text>
<line x1="327.40000000000003" y1="318.00" x2="328.8" y2="318.00" stroke="#333" stroke-width="0.6"/>
<text font-size="3.42" fill="#2a2a2a" stroke="#2a2a2a" stroke-width="0.13" text-anchor="end" style="text-rendering:geometricPrecision"><tspan x="325.8" y="317.73">sugar transmembrane</tspan><tspan x="325.8" y="321.48">transporter activity</tspan></text>
<line x1="327.40000000000003" y1="329.53" x2="328.8" y2="329.53" stroke="#333" stroke-width="0.6"/>
<text font-size="3.42" fill="#2a2a2a" stroke="#2a2a2a" stroke-width="0.13" text-anchor="end" style="text-rendering:geometricPrecision"><tspan x="325.8" y="331.13">carboxy-lyase activity</tspan></text>
<line x1="327.40000000000003" y1="341.05" x2="328.8" y2="341.05" stroke="#333" stroke-width="0.6"/>
<text font-size="3.42" fill="#2a2a2a" stroke="#2a2a2a" stroke-width="0.13" text-anchor="end" style="text-rendering:geometricPrecision"><tspan x="325.8" y="342.65">hexokinase activity</tspan></text>
<line x1="327.40000000000003" y1="352.58" x2="328.8" y2="352.58" stroke="#333" stroke-width="0.6"/>
<text font-size="3.42" fill="#2a2a2a" stroke="#2a2a2a" stroke-width="0.13" text-anchor="end" style="text-rendering:geometricPrecision"><tspan x="325.8" y="354.18">cellulase activity</tspan></text>
<text x="238" y="130.3" font-size="5.8" fill="#111" stroke="#111" stroke-width="0.25">p.adjust</text>
<defs><linearGradient id="g238" x1="0" y1="0" x2="0" y2="1"><stop offset="0.0" stop-color="#e06663"/><stop offset="0.1" stop-color="#d56a6c"/><stop offset="0.2" stop-color="#ca6d74"/><stop offset="0.3" stop-color="#be707d"/><stop offset="0.4" stop-color="#b17386"/><stop offset="0.5" stop-color="#a3758e"/><stop offset="0.6" stop-color="#947797"/><stop offset="0.7" stop-color="#8479a0"/><stop offset="0.8" stop-color="#707ba8"/><stop offset="0.9" stop-color="#577db1"/><stop offset="1.0" stop-color="#327eba"/></linearGradient></defs>
<rect x="238" y="134" width="9.3" height="46.900000000000006" fill="url(#g238)"/>
<line x1="238" y1="148.1" x2="239.8" y2="148.1" stroke="#fff" stroke-width="0.4"/>
<line x1="245.5" y1="148.1" x2="247.3" y2="148.1" stroke="#fff" stroke-width="0.4"/>
<text x="249.4" y="149.79999999999998" font-size="5.5" fill="#111" stroke="#111" stroke-width="0.22">0.2</text>
<line x1="238" y1="161.9" x2="239.8" y2="161.9" stroke="#fff" stroke-width="0.4"/>
<line x1="245.5" y1="161.9" x2="247.3" y2="161.9" stroke="#fff" stroke-width="0.4"/>
<text x="249.4" y="163.6" font-size="5.5" fill="#111" stroke="#111" stroke-width="0.22">0.4</text>
<line x1="238" y1="175.6" x2="239.8" y2="175.6" stroke="#fff" stroke-width="0.4"/>
<line x1="245.5" y1="175.6" x2="247.3" y2="175.6" stroke="#fff" stroke-width="0.4"/>
<text x="249.4" y="177.29999999999998" font-size="5.5" fill="#111" stroke="#111" stroke-width="0.22">0.6</text>
<text x="238" y="197.8" font-size="5.9" fill="#111" stroke="#111" stroke-width="0.25">Count</text>
<circle cx="243.6" cy="206.5" r="2.7" fill="none" stroke="#444" stroke-width="0.7"/>
<text x="253.4" y="208.2" font-size="5.5" fill="#111" stroke="#111" stroke-width="0.22">2</text>
<circle cx="243.6" cy="216" r="3.3000000000000003" fill="none" stroke="#444" stroke-width="0.7"/>
<text x="253.4" y="217.7" font-size="5.5" fill="#111" stroke="#111" stroke-width="0.22">4</text>
<circle cx="243.6" cy="226.3" r="4.0" fill="none" stroke="#444" stroke-width="0.7"/>
<text x="253.4" y="228.0" font-size="5.5" fill="#111" stroke="#111" stroke-width="0.22">6</text>
<circle cx="243.6" cy="238" r="4.6000000000000005" fill="none" stroke="#444" stroke-width="0.7"/>
<text x="253.4" y="239.7" font-size="5.5" fill="#111" stroke="#111" stroke-width="0.22">8</text>
<text x="493" y="129.6" font-size="5.8" fill="#111" stroke="#111" stroke-width="0.25">p.adjust</text>
<defs><linearGradient id="g493" x1="0" y1="0" x2="0" y2="1"><stop offset="0.0" stop-color="#e06663"/><stop offset="0.1" stop-color="#d56a6c"/><stop offset="0.2" stop-color="#ca6d74"/><stop offset="0.3" stop-color="#be707d"/><stop offset="0.4" stop-color="#b17386"/><stop offset="0.5" stop-color="#a3758e"/><stop offset="0.6" stop-color="#947797"/><stop offset="0.7" stop-color="#8479a0"/><stop offset="0.8" stop-color="#707ba8"/><stop offset="0.9" stop-color="#577db1"/><stop offset="1.0" stop-color="#327eba"/></linearGradient></defs>
<rect x="493" y="133.1" width="9.8" height="48.70000000000002" fill="url(#g493)"/>
<line x1="493" y1="142.8" x2="494.8" y2="142.8" stroke="#fff" stroke-width="0.4"/>
<line x1="501.0" y1="142.8" x2="502.8" y2="142.8" stroke="#fff" stroke-width="0.4"/>
<text x="505.8" y="144.5" font-size="5.25" fill="#111" stroke="#111" stroke-width="0.22">0.025</text>
<line x1="493" y1="151.9" x2="494.8" y2="151.9" stroke="#fff" stroke-width="0.4"/>
<line x1="501.0" y1="151.9" x2="502.8" y2="151.9" stroke="#fff" stroke-width="0.4"/>
<text x="505.8" y="153.6" font-size="5.25" fill="#111" stroke="#111" stroke-width="0.22">0.050</text>
<line x1="493" y1="161.2" x2="494.8" y2="161.2" stroke="#fff" stroke-width="0.4"/>
<line x1="501.0" y1="161.2" x2="502.8" y2="161.2" stroke="#fff" stroke-width="0.4"/>
<text x="505.8" y="162.89999999999998" font-size="5.25" fill="#111" stroke="#111" stroke-width="0.22">0.075</text>
<line x1="493" y1="170.4" x2="494.8" y2="170.4" stroke="#fff" stroke-width="0.4"/>
<line x1="501.0" y1="170.4" x2="502.8" y2="170.4" stroke="#fff" stroke-width="0.4"/>
<text x="505.8" y="172.1" font-size="5.25" fill="#111" stroke="#111" stroke-width="0.22">0.100</text>
<line x1="493" y1="179.7" x2="494.8" y2="179.7" stroke="#fff" stroke-width="0.4"/>
<line x1="501.0" y1="179.7" x2="502.8" y2="179.7" stroke="#fff" stroke-width="0.4"/>
<text x="505.8" y="181.39999999999998" font-size="5.25" fill="#111" stroke="#111" stroke-width="0.22">0.125</text>
<text x="493" y="200.2" font-size="5.9" fill="#111" stroke="#111" stroke-width="0.25">Count</text>
<circle cx="498.9" cy="208.7" r="2.7" fill="none" stroke="#444" stroke-width="0.7"/>
<text x="508.4" y="210.39999999999998" font-size="5.25" fill="#111" stroke="#111" stroke-width="0.22">4</text>
<circle cx="498.9" cy="218.2" r="3.3000000000000003" fill="none" stroke="#444" stroke-width="0.7"/>
<text x="508.4" y="219.89999999999998" font-size="5.25" fill="#111" stroke="#111" stroke-width="0.22">8</text>
<circle cx="498.9" cy="229" r="4.3" fill="none" stroke="#444" stroke-width="0.7"/>
<text x="508.4" y="230.7" font-size="5.25" fill="#111" stroke="#111" stroke-width="0.22">12</text>
<circle cx="498.9" cy="241" r="4.8" fill="none" stroke="#444" stroke-width="0.7"/>
<text x="508.4" y="242.7" font-size="5.25" fill="#111" stroke="#111" stroke-width="0.22">16</text>
<g stroke="#9c9c9c" stroke-width="0.75" stroke-opacity="0.8">
<line x1="232.5" y1="492.3" x2="143.3" y2="484.4"/>
<line x1="232.5" y1="492.3" x2="120.3" y2="421.3"/>
<line x1="232.5" y1="492.3" x2="174.6" y2="458.0"/>
<line x1="232.5" y1="492.3" x2="172.0" y2="519.0"/>
<line x1="232.5" y1="492.3" x2="202.9" y2="524.2"/>
<line x1="232.5" y1="492.3" x2="172.2" y2="497.0"/>
<line x1="232.5" y1="492.3" x2="148.0" y2="511.3"/>
<line x1="232.5" y1="492.3" x2="128.8" y2="514.2"/>
<line x1="232.5" y1="492.3" x2="66.3" y2="457.3"/>
<line x1="232.5" y1="492.3" x2="192.6" y2="506.0"/>
<line x1="232.5" y1="492.3" x2="116.0" y2="469.8"/>
<line x1="146.0" y1="400.6" x2="143.3" y2="484.4"/>
<line x1="146.0" y1="400.6" x2="137.9" y2="557.5"/>
<line x1="146.0" y1="400.6" x2="134.6" y2="445.0"/>
<line x1="146.0" y1="400.6" x2="174.6" y2="458.0"/>
<line x1="146.0" y1="400.6" x2="172.0" y2="519.0"/>
<line x1="146.0" y1="400.6" x2="172.2" y2="497.0"/>
<line x1="146.0" y1="400.6" x2="148.0" y2="511.3"/>
<line x1="146.0" y1="400.6" x2="128.8" y2="514.2"/>
<line x1="174.0" y1="422.1" x2="143.3" y2="484.4"/>
<line x1="174.0" y1="422.1" x2="191.7" y2="559.1"/>
<line x1="174.0" y1="422.1" x2="134.6" y2="445.0"/>
<line x1="174.0" y1="422.1" x2="174.6" y2="458.0"/>
<line x1="174.0" y1="422.1" x2="172.0" y2="519.0"/>
<line x1="174.0" y1="422.1" x2="172.2" y2="497.0"/>
<line x1="174.0" y1="422.1" x2="148.0" y2="511.3"/>
<line x1="174.0" y1="422.1" x2="192.6" y2="506.0"/>
<line x1="227.5" y1="431.9" x2="143.3" y2="484.4"/>
<line x1="227.5" y1="431.9" x2="66.0" y2="495.1"/>
<line x1="227.5" y1="431.9" x2="137.9" y2="557.5"/>
<line x1="227.5" y1="431.9" x2="174.6" y2="458.0"/>
<line x1="227.5" y1="431.9" x2="172.0" y2="519.0"/>
<line x1="227.5" y1="431.9" x2="202.9" y2="524.2"/>
<line x1="227.5" y1="431.9" x2="172.2" y2="497.0"/>
<line x1="227.5" y1="431.9" x2="148.0" y2="511.3"/>
<line x1="227.5" y1="431.9" x2="192.6" y2="506.0"/>
<line x1="143.3" y1="484.4" x2="66.0" y2="495.1"/>
<line x1="143.3" y1="484.4" x2="191.7" y2="559.1"/>
<line x1="143.3" y1="484.4" x2="201.0" y2="428.8"/>
<line x1="143.3" y1="484.4" x2="120.3" y2="421.3"/>
<line x1="143.3" y1="484.4" x2="80.2" y2="520.2"/>
<line x1="143.3" y1="484.4" x2="137.9" y2="557.5"/>
<line x1="143.3" y1="484.4" x2="134.6" y2="445.0"/>
<line x1="143.3" y1="484.4" x2="174.6" y2="458.0"/>
<line x1="143.3" y1="484.4" x2="172.0" y2="519.0"/>
<line x1="143.3" y1="484.4" x2="109.1" y2="576.3"/>
<line x1="143.3" y1="484.4" x2="110.5" y2="500.0"/>
<line x1="143.3" y1="484.4" x2="202.9" y2="524.2"/>
<line x1="143.3" y1="484.4" x2="32.7" y2="555.8"/>
<line x1="143.3" y1="484.4" x2="172.2" y2="497.0"/>
<line x1="143.3" y1="484.4" x2="148.0" y2="511.3"/>
<line x1="143.3" y1="484.4" x2="128.8" y2="514.2"/>
<line x1="143.3" y1="484.4" x2="66.3" y2="457.3"/>
<line x1="143.3" y1="484.4" x2="192.6" y2="506.0"/>
<line x1="143.3" y1="484.4" x2="248.8" y2="487.7"/>
<line x1="143.3" y1="484.4" x2="116.0" y2="469.8"/>
<line x1="277.7" y1="522.7" x2="202.9" y2="524.2"/>
<line x1="66.0" y1="495.1" x2="134.6" y2="445.0"/>
<line x1="66.0" y1="495.1" x2="172.0" y2="519.0"/>
<line x1="66.0" y1="495.1" x2="110.5" y2="500.0"/>
<line x1="66.0" y1="495.1" x2="172.2" y2="497.0"/>
<line x1="66.0" y1="495.1" x2="148.0" y2="511.3"/>
<line x1="66.0" y1="495.1" x2="128.8" y2="514.2"/>
<line x1="66.0" y1="495.1" x2="116.0" y2="469.8"/>
<line x1="191.7" y1="559.1" x2="120.3" y2="421.3"/>
<line x1="191.7" y1="559.1" x2="134.6" y2="445.0"/>
<line x1="191.7" y1="559.1" x2="174.6" y2="458.0"/>
<line x1="191.7" y1="559.1" x2="172.0" y2="519.0"/>
<line x1="191.7" y1="559.1" x2="110.5" y2="500.0"/>
<line x1="191.7" y1="559.1" x2="172.2" y2="497.0"/>
<line x1="191.7" y1="559.1" x2="148.0" y2="511.3"/>
<line x1="191.7" y1="559.1" x2="128.8" y2="514.2"/>
<line x1="191.7" y1="559.1" x2="66.3" y2="457.3"/>
<line x1="191.7" y1="559.1" x2="192.6" y2="506.0"/>
<line x1="191.7" y1="559.1" x2="116.0" y2="469.8"/>
<line x1="201.0" y1="428.8" x2="80.2" y2="520.2"/>
<line x1="201.0" y1="428.8" x2="134.6" y2="445.0"/>
<line x1="201.0" y1="428.8" x2="174.6" y2="458.0"/>
<line x1="201.0" y1="428.8" x2="172.0" y2="519.0"/>
<line x1="201.0" y1="428.8" x2="109.1" y2="576.3"/>
<line x1="201.0" y1="428.8" x2="202.9" y2="524.2"/>
<line x1="201.0" y1="428.8" x2="172.2" y2="497.0"/>
<line x1="201.0" y1="428.8" x2="148.0" y2="511.3"/>
<line x1="201.0" y1="428.8" x2="116.0" y2="469.8"/>
<line x1="234.4" y1="546.2" x2="172.0" y2="519.0"/>
<line x1="234.4" y1="546.2" x2="202.9" y2="524.2"/>
<line x1="234.4" y1="546.2" x2="172.2" y2="497.0"/>
<line x1="234.4" y1="546.2" x2="148.0" y2="511.3"/>
<line x1="234.4" y1="546.2" x2="192.6" y2="506.0"/>
<line x1="234.4" y1="546.2" x2="274.4" y2="574.0"/>
<line x1="120.3" y1="421.3" x2="134.6" y2="445.0"/>
<line x1="120.3" y1="421.3" x2="174.6" y2="458.0"/>
<line x1="120.3" y1="421.3" x2="172.0" y2="519.0"/>
<line x1="120.3" y1="421.3" x2="110.5" y2="500.0"/>
<line x1="120.3" y1="421.3" x2="148.0" y2="511.3"/>
<line x1="120.3" y1="421.3" x2="116.0" y2="469.8"/>
<line x1="80.2" y1="520.2" x2="134.6" y2="445.0"/>
<line x1="80.2" y1="520.2" x2="172.0" y2="519.0"/>
<line x1="80.2" y1="520.2" x2="109.1" y2="576.3"/>
<line x1="80.2" y1="520.2" x2="110.5" y2="500.0"/>
<line x1="80.2" y1="520.2" x2="202.9" y2="524.2"/>
<line x1="80.2" y1="520.2" x2="32.7" y2="555.8"/>
<line x1="80.2" y1="520.2" x2="172.2" y2="497.0"/>
<line x1="80.2" y1="520.2" x2="148.0" y2="511.3"/>
<line x1="80.2" y1="520.2" x2="128.8" y2="514.2"/>
<line x1="80.2" y1="520.2" x2="116.0" y2="469.8"/>
<line x1="137.9" y1="557.5" x2="134.6" y2="445.0"/>
<line x1="137.9" y1="557.5" x2="174.6" y2="458.0"/>
<line x1="137.9" y1="557.5" x2="172.0" y2="519.0"/>
<line x1="137.9" y1="557.5" x2="110.5" y2="500.0"/>
<line x1="137.9" y1="557.5" x2="202.9" y2="524.2"/>
<line x1="137.9" y1="557.5" x2="172.2" y2="497.0"/>
<line x1="137.9" y1="557.5" x2="148.0" y2="511.3"/>
<line x1="137.9" y1="557.5" x2="128.8" y2="514.2"/>
<line x1="137.9" y1="557.5" x2="116.0" y2="469.8"/>
<line x1="134.6" y1="445.0" x2="174.6" y2="458.0"/>
<line x1="134.6" y1="445.0" x2="172.0" y2="519.0"/>
<line x1="134.6" y1="445.0" x2="109.1" y2="576.3"/>
<line x1="134.6" y1="445.0" x2="110.5" y2="500.0"/>
<line x1="134.6" y1="445.0" x2="202.9" y2="524.2"/>
<line x1="134.6" y1="445.0" x2="172.2" y2="497.0"/>
<line x1="134.6" y1="445.0" x2="148.0" y2="511.3"/>
<line x1="134.6" y1="445.0" x2="128.8" y2="514.2"/>
<line x1="134.6" y1="445.0" x2="66.3" y2="457.3"/>
<line x1="134.6" y1="445.0" x2="192.6" y2="506.0"/>
<line x1="134.6" y1="445.0" x2="116.0" y2="469.8"/>
<line x1="174.6" y1="458.0" x2="172.0" y2="519.0"/>
<line x1="174.6" y1="458.0" x2="110.5" y2="500.0"/>
<line x1="174.6" y1="458.0" x2="202.9" y2="524.2"/>
<line x1="174.6" y1="458.0" x2="172.2" y2="497.0"/>
<line x1="174.6" y1="458.0" x2="148.0" y2="511.3"/>
<line x1="174.6" y1="458.0" x2="128.8" y2="514.2"/>
<line x1="174.6" y1="458.0" x2="66.3" y2="457.3"/>
<line x1="174.6" y1="458.0" x2="192.6" y2="506.0"/>
<line x1="174.6" y1="458.0" x2="248.8" y2="487.7"/>
<line x1="174.6" y1="458.0" x2="116.0" y2="469.8"/>
<line x1="172.0" y1="519.0" x2="109.1" y2="576.3"/>
<line x1="172.0" y1="519.0" x2="110.5" y2="500.0"/>
<line x1="172.0" y1="519.0" x2="202.9" y2="524.2"/>
<line x1="172.0" y1="519.0" x2="32.7" y2="555.8"/>
<line x1="172.0" y1="519.0" x2="172.2" y2="497.0"/>
<line x1="172.0" y1="519.0" x2="160.0" y2="586.5"/>
<line x1="172.0" y1="519.0" x2="148.0" y2="511.3"/>
<line x1="172.0" y1="519.0" x2="128.8" y2="514.2"/>
<line x1="172.0" y1="519.0" x2="66.3" y2="457.3"/>
<line x1="172.0" y1="519.0" x2="192.6" y2="506.0"/>
<line x1="172.0" y1="519.0" x2="248.8" y2="487.7"/>
<line x1="172.0" y1="519.0" x2="116.0" y2="469.8"/>
<line x1="109.1" y1="576.3" x2="110.5" y2="500.0"/>
<line x1="109.1" y1="576.3" x2="202.9" y2="524.2"/>
<line x1="109.1" y1="576.3" x2="172.2" y2="497.0"/>
<line x1="109.1" y1="576.3" x2="148.0" y2="511.3"/>
<line x1="109.1" y1="576.3" x2="128.8" y2="514.2"/>
<line x1="109.1" y1="576.3" x2="192.6" y2="506.0"/>
<line x1="109.1" y1="576.3" x2="116.0" y2="469.8"/>
<line x1="110.5" y1="500.0" x2="202.9" y2="524.2"/>
<line x1="110.5" y1="500.0" x2="32.7" y2="555.8"/>
<line x1="110.5" y1="500.0" x2="172.2" y2="497.0"/>
<line x1="110.5" y1="500.0" x2="148.0" y2="511.3"/>
<line x1="110.5" y1="500.0" x2="128.8" y2="514.2"/>
<line x1="110.5" y1="500.0" x2="66.3" y2="457.3"/>
<line x1="110.5" y1="500.0" x2="192.6" y2="506.0"/>
<line x1="110.5" y1="500.0" x2="116.0" y2="469.8"/>
<line x1="202.9" y1="524.2" x2="172.2" y2="497.0"/>
<line x1="202.9" y1="524.2" x2="160.0" y2="586.5"/>
<line x1="202.9" y1="524.2" x2="148.0" y2="511.3"/>
<line x1="202.9" y1="524.2" x2="128.8" y2="514.2"/>
<line x1="202.9" y1="524.2" x2="192.6" y2="506.0"/>
<line x1="202.9" y1="524.2" x2="116.0" y2="469.8"/>
<line x1="32.7" y1="555.8" x2="148.0" y2="511.3"/>
<line x1="32.7" y1="555.8" x2="128.8" y2="514.2"/>
<line x1="172.2" y1="497.0" x2="148.0" y2="511.3"/>
<line x1="172.2" y1="497.0" x2="128.8" y2="514.2"/>
<line x1="172.2" y1="497.0" x2="66.3" y2="457.3"/>
<line x1="172.2" y1="497.0" x2="192.6" y2="506.0"/>
<line x1="172.2" y1="497.0" x2="248.8" y2="487.7"/>
<line x1="172.2" y1="497.0" x2="116.0" y2="469.8"/>
<line x1="160.0" y1="586.5" x2="148.0" y2="511.3"/>
<line x1="160.0" y1="586.5" x2="128.8" y2="514.2"/>
<line x1="148.0" y1="511.3" x2="128.8" y2="514.2"/>
<line x1="148.0" y1="511.3" x2="66.3" y2="457.3"/>
<line x1="148.0" y1="511.3" x2="192.6" y2="506.0"/>
<line x1="148.0" y1="511.3" x2="248.8" y2="487.7"/>
<line x1="148.0" y1="511.3" x2="116.0" y2="469.8"/>
<line x1="128.8" y1="514.2" x2="192.6" y2="506.0"/>
<line x1="128.8" y1="514.2" x2="116.0" y2="469.8"/>
<line x1="66.3" y1="457.3" x2="116.0" y2="469.8"/>
<line x1="192.6" y1="506.0" x2="116.0" y2="469.8"/>
</g>
<g stroke="#bdbdbd" stroke-width="0.8">
<line x1="362.7" y1="431.5" x2="400.2" y2="446.2"/>
<line x1="400.2" y1="446.2" x2="358.4" y2="478.6"/>
<line x1="400.2" y1="446.2" x2="411.7" y2="487.9"/>
<line x1="358.4" y1="478.6" x2="411.7" y2="487.9"/>
<line x1="358.4" y1="478.6" x2="335.9" y2="523.4"/>
<line x1="358.4" y1="478.6" x2="389.2" y2="523.4"/>
<line x1="358.4" y1="478.6" x2="364.7" y2="555.1"/>
<line x1="411.7" y1="487.9" x2="335.9" y2="523.4"/>
<line x1="411.7" y1="487.9" x2="389.2" y2="523.4"/>
<line x1="411.7" y1="487.9" x2="446.9" y2="511.2"/>
<line x1="411.7" y1="487.9" x2="431.0" y2="541.5"/>
<line x1="411.7" y1="487.9" x2="408.0" y2="567.5"/>
<line x1="411.7" y1="487.9" x2="364.7" y2="555.1"/>
<line x1="335.9" y1="523.4" x2="389.2" y2="523.4"/>
<line x1="335.9" y1="523.4" x2="364.7" y2="555.1"/>
<line x1="389.2" y1="523.4" x2="446.9" y2="511.2"/>
<line x1="389.2" y1="523.4" x2="431.0" y2="541.5"/>
<line x1="389.2" y1="523.4" x2="408.0" y2="567.5"/>
<line x1="389.2" y1="523.4" x2="364.7" y2="555.1"/>
<line x1="446.9" y1="511.2" x2="364.7" y2="555.1"/>
<line x1="431.0" y1="541.5" x2="364.7" y2="555.1"/>
<line x1="364.7" y1="555.1" x2="408.0" y2="567.5"/>
</g>
<circle cx="146.0" cy="400.6" r="9.7" fill="#f5dc8e"/>
<text x="146.0" y="403.59" font-size="8.3" fill="#2b2b2b" stroke="#2b2b2b" stroke-width="0.28" text-anchor="middle">AT1G20132</text>
<circle cx="120.3" cy="421.3" r="9.7" fill="#78c8af"/>
<text x="120.3" y="424.29" font-size="8.3" fill="#2b2b2b" stroke="#2b2b2b" stroke-width="0.28" text-anchor="middle">AT2G30290</text>
<circle cx="174.0" cy="422.1" r="9.7" fill="#78c8af"/>
<text x="174.0" y="425.09" font-size="8.3" fill="#2b2b2b" stroke="#2b2b2b" stroke-width="0.28" text-anchor="middle">AT1G22015</text>
<circle cx="227.5" cy="431.9" r="9.7" fill="#78c8af"/>
<text x="227.5" y="434.89" font-size="8.3" fill="#2b2b2b" stroke="#2b2b2b" stroke-width="0.28" text-anchor="middle">AT1G23670</text>
<circle cx="201.0" cy="428.8" r="9.7" fill="#78c8af"/>
<text x="201.0" y="431.79" font-size="8.3" fill="#2b2b2b" stroke="#2b2b2b" stroke-width="0.28" text-anchor="middle">AT1G69180</text>
<circle cx="134.6" cy="445.0" r="9.7" fill="#f5dc8e"/>
<text x="134.6" y="447.99" font-size="8.3" fill="#2b2b2b" stroke="#2b2b2b" stroke-width="0.28" text-anchor="middle">AT3G07830</text>
<circle cx="66.3" cy="457.3" r="9.7" fill="#78c8af"/>
<text x="66.3" y="460.29" font-size="8.3" fill="#2b2b2b" stroke="#2b2b2b" stroke-width="0.28" text-anchor="middle">AT5G06765</text>
<circle cx="174.6" cy="458.0" r="9.7" fill="#f5dc8e"/>
<text x="174.6" y="460.99" font-size="8.3" fill="#2b2b2b" stroke="#2b2b2b" stroke-width="0.28" text-anchor="middle">AT3G08560</text>
<circle cx="116.0" cy="469.8" r="9.7" fill="#78c8af"/>
<text x="116.0" y="472.79" font-size="8.3" fill="#2b2b2b" stroke="#2b2b2b" stroke-width="0.28" text-anchor="middle">AT5G59370</text>
<circle cx="143.3" cy="484.4" r="9.7" fill="#f5dc8e"/>
<text x="143.3" y="487.39" font-size="8.3" fill="#2b2b2b" stroke="#2b2b2b" stroke-width="0.28" text-anchor="middle">AT1G26480</text>
<circle cx="66.0" cy="495.1" r="9.7" fill="#f5dc8e"/>
<text x="66.0" y="498.09" font-size="8.3" fill="#2b2b2b" stroke="#2b2b2b" stroke-width="0.28" text-anchor="middle">AT1G29140</text>
<circle cx="110.5" cy="500.0" r="9.7" fill="#78c8af"/>
<text x="110.5" y="502.99" font-size="8.3" fill="#2b2b2b" stroke="#2b2b2b" stroke-width="0.28" text-anchor="middle">AT3G28917</text>
<circle cx="192.6" cy="506.0" r="9.7" fill="#f5dc8e"/>
<text x="192.6" y="508.99" font-size="8.3" fill="#2b2b2b" stroke="#2b2b2b" stroke-width="0.28" text-anchor="middle">AT5G42170</text>
<circle cx="172.2" cy="497.0" r="9.7" fill="#f5dc8e"/>
<text x="172.2" y="499.99" font-size="8.3" fill="#2b2b2b" stroke="#2b2b2b" stroke-width="0.28" text-anchor="middle">AT4G10850</text>
<circle cx="248.8" cy="487.7" r="9.7" fill="#78c8af"/>
<text x="248.8" y="490.69" font-size="8.3" fill="#2b2b2b" stroke="#2b2b2b" stroke-width="0.28" text-anchor="middle">AT5G44542</text>
<circle cx="232.5" cy="492.3" r="9.7" fill="#78c8af"/>
<text x="232.5" y="495.29" font-size="8.3" fill="#2b2b2b" stroke="#2b2b2b" stroke-width="0.28" text-anchor="middle">AT1G04967</text>
<circle cx="80.2" cy="520.2" r="9.7" fill="#78c8af"/>
<text x="80.2" y="523.19" font-size="8.3" fill="#2b2b2b" stroke="#2b2b2b" stroke-width="0.28" text-anchor="middle">AT2G46300</text>
<circle cx="128.8" cy="514.2" r="9.7" fill="#f5dc8e"/>
<text x="128.8" y="517.19" font-size="8.3" fill="#2b2b2b" stroke="#2b2b2b" stroke-width="0.28" text-anchor="middle">AT5G05050</text>
<circle cx="148.0" cy="511.3" r="9.7" fill="#78c8af"/>
<text x="148.0" y="514.29" font-size="8.3" fill="#2b2b2b" stroke="#2b2b2b" stroke-width="0.28" text-anchor="middle">AT4G28000</text>
<circle cx="172.0" cy="519.0" r="9.7" fill="#f5dc8e"/>
<text x="172.0" y="521.99" font-size="8.3" fill="#2b2b2b" stroke="#2b2b2b" stroke-width="0.28" text-anchor="middle">AT3G15830</text>
<circle cx="202.9" cy="524.2" r="9.7" fill="#f5dc8e"/>
<text x="202.9" y="527.19" font-size="8.3" fill="#2b2b2b" stroke="#2b2b2b" stroke-width="0.28" text-anchor="middle">AT3G54340</text>
<circle cx="277.7" cy="522.7" r="9.7" fill="#78c8af"/>
<text x="277.7" y="525.69" font-size="8.3" fill="#2b2b2b" stroke="#2b2b2b" stroke-width="0.28" text-anchor="middle">AT1G28335</text>
<circle cx="32.7" cy="555.8" r="9.7" fill="#f5dc8e"/>
<text x="32.7" y="558.79" font-size="8.3" fill="#2b2b2b" stroke="#2b2b2b" stroke-width="0.28" text-anchor="middle">AT4G02140</text>
<circle cx="234.4" cy="546.2" r="9.7" fill="#78c8af"/>
<text x="234.4" y="549.19" font-size="8.3" fill="#2b2b2b" stroke="#2b2b2b" stroke-width="0.28" text-anchor="middle">AT1G72260</text>
<circle cx="137.9" cy="557.5" r="9.7" fill="#78c8af"/>
<text x="137.9" y="560.49" font-size="8.3" fill="#2b2b2b" stroke="#2b2b2b" stroke-width="0.28" text-anchor="middle">AT2G47030</text>
<circle cx="191.7" cy="559.1" r="9.7" fill="#78c8af"/>
<text x="191.7" y="562.09" font-size="8.3" fill="#2b2b2b" stroke="#2b2b2b" stroke-width="0.28" text-anchor="middle">AT1G68750</text>
<circle cx="109.1" cy="576.3" r="9.7" fill="#78c8af"/>
<text x="109.1" y="579.29" font-size="8.3" fill="#2b2b2b" stroke="#2b2b2b" stroke-width="0.28" text-anchor="middle">AT3G25165</text>
<circle cx="160.0" cy="586.5" r="9.7" fill="#f5dc8e"/>
<text x="160.0" y="589.49" font-size="8.3" fill="#2b2b2b" stroke="#2b2b2b" stroke-width="0.28" text-anchor="middle">AT4G20050</text>
<circle cx="274.4" cy="574.0" r="9.7" fill="#78c8af"/>
<text x="274.4" y="576.99" font-size="8.3" fill="#2b2b2b" stroke="#2b2b2b" stroke-width="0.28" text-anchor="middle">AT5G59845</text>
<circle cx="362.7" cy="431.5" r="8.8" fill="#f5dc8e"/>
<text x="362.7" y="434.34" font-size="7.9" fill="#2b2b2b" stroke="#2b2b2b" stroke-width="0.18" text-anchor="middle">AT5G05195</text>
<circle cx="400.2" cy="446.2" r="8.8" fill="#78c8af"/>
<text x="400.2" y="449.04" font-size="7.9" fill="#2b2b2b" stroke="#2b2b2b" stroke-width="0.18" text-anchor="middle">AT4G21362</text>
<circle cx="358.4" cy="478.6" r="8.8" fill="#f5dc8e"/>
<text x="358.4" y="481.44" font-size="7.9" fill="#2b2b2b" stroke="#2b2b2b" stroke-width="0.18" text-anchor="middle">AT2G04345</text>
<circle cx="411.7" cy="487.9" r="8.8" fill="#78c8af"/>
<text x="411.7" y="490.74" font-size="7.9" fill="#2b2b2b" stroke="#2b2b2b" stroke-width="0.18" text-anchor="middle">AT3G08370</text>
<circle cx="446.9" cy="511.2" r="8.8" fill="#78c8af"/>
<text x="446.9" y="514.04" font-size="7.9" fill="#2b2b2b" stroke="#2b2b2b" stroke-width="0.18" text-anchor="middle">AT5G07875</text>
<circle cx="335.9" cy="523.4" r="8.8" fill="#f5dc8e"/>
<text x="335.9" y="526.24" font-size="7.9" fill="#2b2b2b" stroke="#2b2b2b" stroke-width="0.18" text-anchor="middle">AT1G08417</text>
<circle cx="389.2" cy="523.4" r="8.8" fill="#78c8af"/>
<text x="389.2" y="526.24" font-size="7.9" fill="#2b2b2b" stroke="#2b2b2b" stroke-width="0.18" text-anchor="middle">AT3G05025</text>
<circle cx="431.0" cy="541.5" r="8.8" fill="#78c8af"/>
<text x="431.0" y="544.34" font-size="7.9" fill="#2b2b2b" stroke="#2b2b2b" stroke-width="0.18" text-anchor="middle">AT3G04395</text>
<circle cx="364.7" cy="555.1" r="8.8" fill="#f5dc8e"/>
<text x="364.7" y="557.94" font-size="7.9" fill="#2b2b2b" stroke="#2b2b2b" stroke-width="0.18" text-anchor="middle">AT1G06417</text>
<circle cx="408.0" cy="567.5" r="8.8" fill="#78c8af"/>
<text x="408.0" y="570.34" font-size="7.9" fill="#2b2b2b" stroke="#2b2b2b" stroke-width="0.18" text-anchor="middle">AT1G04993</text>
</svg>
</body></html>
